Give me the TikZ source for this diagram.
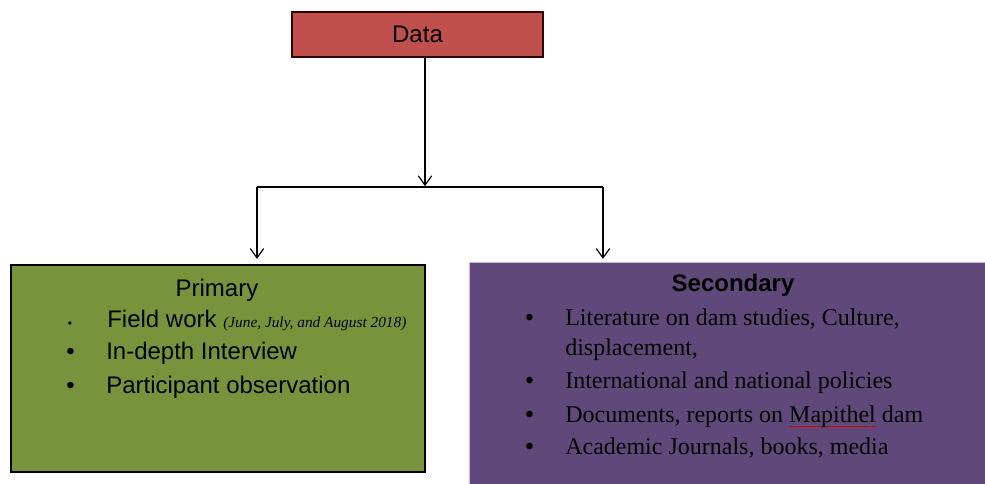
\documentclass[tikz,border=0pt]{standalone}
\usepackage{fontspec}
\setmainfont{Liberation Serif}
\setsansfont{Liberation Sans}
\usetikzlibrary{arrows.meta}

\definecolor{datared}{HTML}{C0504D}
\definecolor{primgreen}{HTML}{77933C}
\definecolor{secpurple}{HTML}{5F497A}
\definecolor{seclilac}{HTML}{C9B8E0}

% bullet with fixed indent, wavy spell mark
\newcommand{\bul}[2]{\makebox[#1][l]{\sffamily\textbullet}#2}
\newcommand{\spellmark}[1]{\setbox0\hbox{#1}\rlap{\raisebox{-3.5pt}{\color{red!80!black}\rule{\wd0}{0.5pt}}}\box0\relax}

\tikzset{
  box/.style={rectangle, line width=1.1pt, inner sep=0pt},
  conn/.style={-{Straight Barb[length=7pt,width=10pt]}, line width=0.9pt},
  bar/.style={line width=1.4pt},
  txt/.style={inner sep=0pt, anchor=base west, font=\fontsize{18}{22}\selectfont},
  head/.style={inner sep=0pt, anchor=base, font=\sffamily\fontsize{18}{22}\selectfont}
}

\begin{document}
\begin{tikzpicture}[x=0.75pt, y=-0.75pt]
  \useasboundingbox (0,0) rectangle (985,484);

  % boxes
  \node[box, draw=black!80!red, fill=datared, minimum width=188.25pt, minimum height=33.75pt] (data) at (417.5,34.5) {};
  \node[box, draw=black, fill=primgreen, minimum width=310.5pt, minimum height=155.25pt] (primary) at (218,368.5) {};
  \node[box, draw=seclilac, line width=0.6pt, fill=secpurple, minimum width=390.75pt, minimum height=171pt] (secondary) at (729.5,376) {};

  % titles
  \node[head] (datatxt) at (417.5,43) {Data};
  \node[head] (primtxt) at (217,297) {Primary};
  \node[head, font=\sffamily\bfseries\fontsize{18}{22}\selectfont] (sectxt) at (733,292) {Secondary};

  % primary items
  \node[txt, font=\sffamily\fontsize{18}{22}\selectfont] (p1) at (107,328)
    {Field work {\rmfamily\itshape\fontsize{11.5}{13}\selectfont (June, July, and August 2018)}};
  \node[inner sep=0pt, anchor=base, font=\sffamily\fontsize{9}{10}\selectfont] (p1b) at (70,328) {\textbullet};
  \node[txt, font=\sffamily\fontsize{18}{22}\selectfont] (p2) at (66,360) {\bul{30pt}{In-depth Interview}};
  \node[txt, font=\sffamily\fontsize{18}{22}\selectfont] (p3) at (66,393) {\bul{30pt}{Participant observation}};

  % secondary items
  \node[txt] (s1) at (525,326) {\bul{30pt}{Literature on dam studies, Culture,}};
  \node[txt] (s1b) at (565,356) {displacement,};
  \node[txt] (s2) at (525,389) {\bul{30pt}{International and national policies}};
  \node[txt] (s3) at (525,422) {\bul{30pt}{Documents, reports on \spellmark{Mapithel} dam}};
  \node[txt] (s4) at (525,455) {\bul{30pt}{Academic Journals, books, media}};

  % connectors
  \coordinate (split) at (425,187);
  \coordinate (lbar) at (257,187);
  \coordinate (rbar) at (603,187);
  \draw[conn] (split |- data.south) -- ([yshift=0.6pt]split);
  \draw[bar] (lbar) -- (rbar);
  \draw[conn] (lbar) -- ([yshift=4pt]lbar |- primary.north);
  \draw[conn] (rbar) -- ([yshift=2pt]rbar |- secondary.north);
\end{tikzpicture}
\end{document}
